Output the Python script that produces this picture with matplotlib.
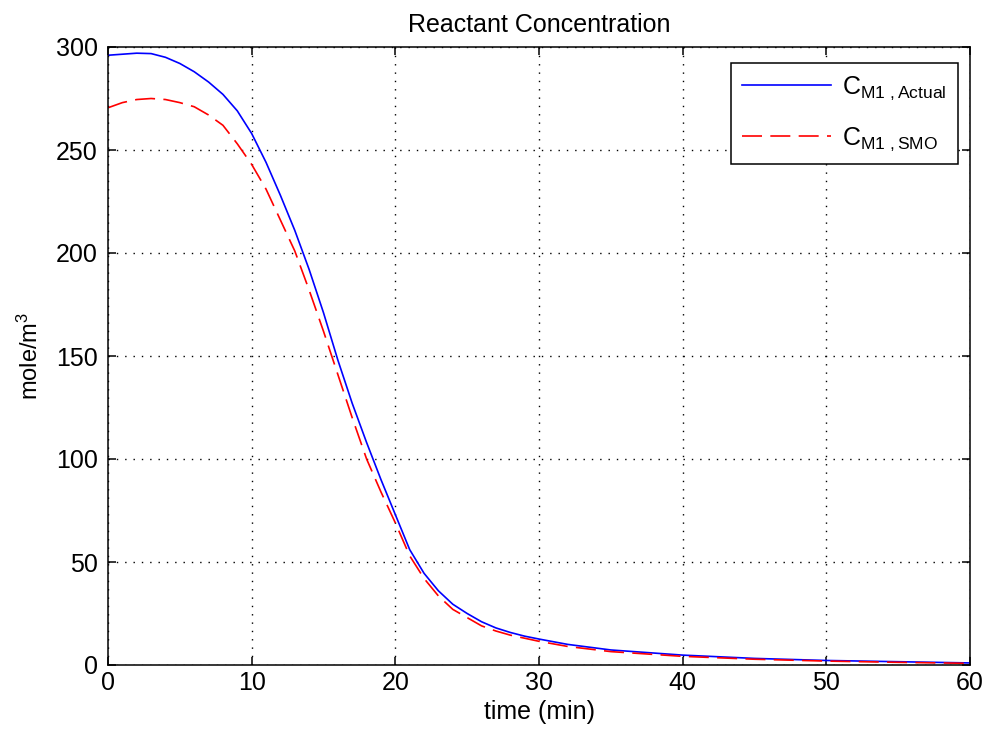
import matplotlib
matplotlib.use("Agg")
import matplotlib.pyplot as plt

plt.rcParams['font.family'] = ['Liberation Sans', 'DejaVu Sans']
plt.rcParams['mathtext.fontset'] = 'custom'
plt.rcParams['mathtext.rm'] = 'Liberation Sans'
plt.rcParams['mathtext.it'] = 'Liberation Sans'
plt.rcParams['mathtext.default'] = 'regular'

title = "Reactant Concentration"
xlabel = "time (min)"
ylabel = "mole/m$^3$"

t_actual = [0, 1, 2, 3, 4, 5, 6, 7, 8, 9, 10, 11, 12, 13, 14, 15, 16, 17, 18, 19, 20,
            21, 22, 23, 24, 25, 26, 27, 28, 29, 30, 32, 35, 40, 45, 50, 55, 60]
c_actual = [296, 296.5, 297, 296.8, 295, 292, 288, 283, 277, 269, 258, 244, 228, 211, 192,
            171, 148, 127, 108, 90, 73, 56, 44.5, 36, 29.5, 25, 21, 18, 15.8, 14, 12.6,
            10, 7.3, 4.8, 3.2, 2.2, 1.6, 1.0]

t_smo = [0, 1, 2, 3, 4, 5, 6, 7, 8, 9, 10, 11, 12, 13, 14, 15, 16, 17, 18, 19, 20,
         21, 22, 23, 24, 25, 26, 27, 28, 29, 30, 32, 35, 40, 45, 50, 55, 60]
c_smo = [270.5, 273, 274.5, 275, 274.5, 273, 271, 267, 262, 253, 243, 231, 216, 201, 182,
         162, 141, 120, 100, 84, 69, 53, 42, 33.5, 27, 23, 19, 16.5, 14.5, 13, 11.5,
         9, 6.5, 4.2, 2.8, 1.9, 1.3, 0.8]

labels = [r"C$_{M1\ ,Actual}$", r"C$_{M1\ ,SMO}$"]
xticks = [0, 10, 20, 30, 40, 50, 60]
yticks = [0, 50, 100, 150, 200, 250, 300]

fig = plt.figure(figsize=(9.85, 7.31), dpi=100)
ax = fig.add_axes([108/985, 66/731, 862/985, 618/731])

ax.plot(t_actual, c_actual, color='#0000ff', lw=1.2, label=labels[0])
ax.plot(t_smo, c_smo, color='#ff0000', lw=1.2, ls=(0, (12, 5)), label=labels[1])

ax.set_xlim(0, 60)
ax.set_ylim(0, 300)
ax.set_xticks(xticks)
ax.set_yticks(yticks)
ax.tick_params(direction='in', top=True, right=True, length=6, width=1.1,
               labelsize=18)
ax.tick_params(axis='x', pad=4)
ax.tick_params(axis='y', pad=7.5)
for s in ax.spines.values():
    s.set_linewidth(1.1)
ax.grid(True, color='black', ls=(0, (1, 5)), lw=1.0)

ax.set_title(title, fontsize=18, pad=11)
ax.set_xlabel(xlabel, fontsize=18, labelpad=4)
ax.set_ylabel(ylabel, fontsize=17, labelpad=9)

leg = ax.legend(loc='upper right', bbox_to_anchor=(958/985, 1 - 63/731),
                bbox_transform=fig.transFigure, borderaxespad=0,
                fontsize=18, fancybox=False, framealpha=1,
                edgecolor='black', handlelength=3.55, handletextpad=0.45,
                labelspacing=0.95, borderpad=0.45)
leg.get_frame().set_linewidth(1.1)

fig.savefig("out.png", dpi=100)
